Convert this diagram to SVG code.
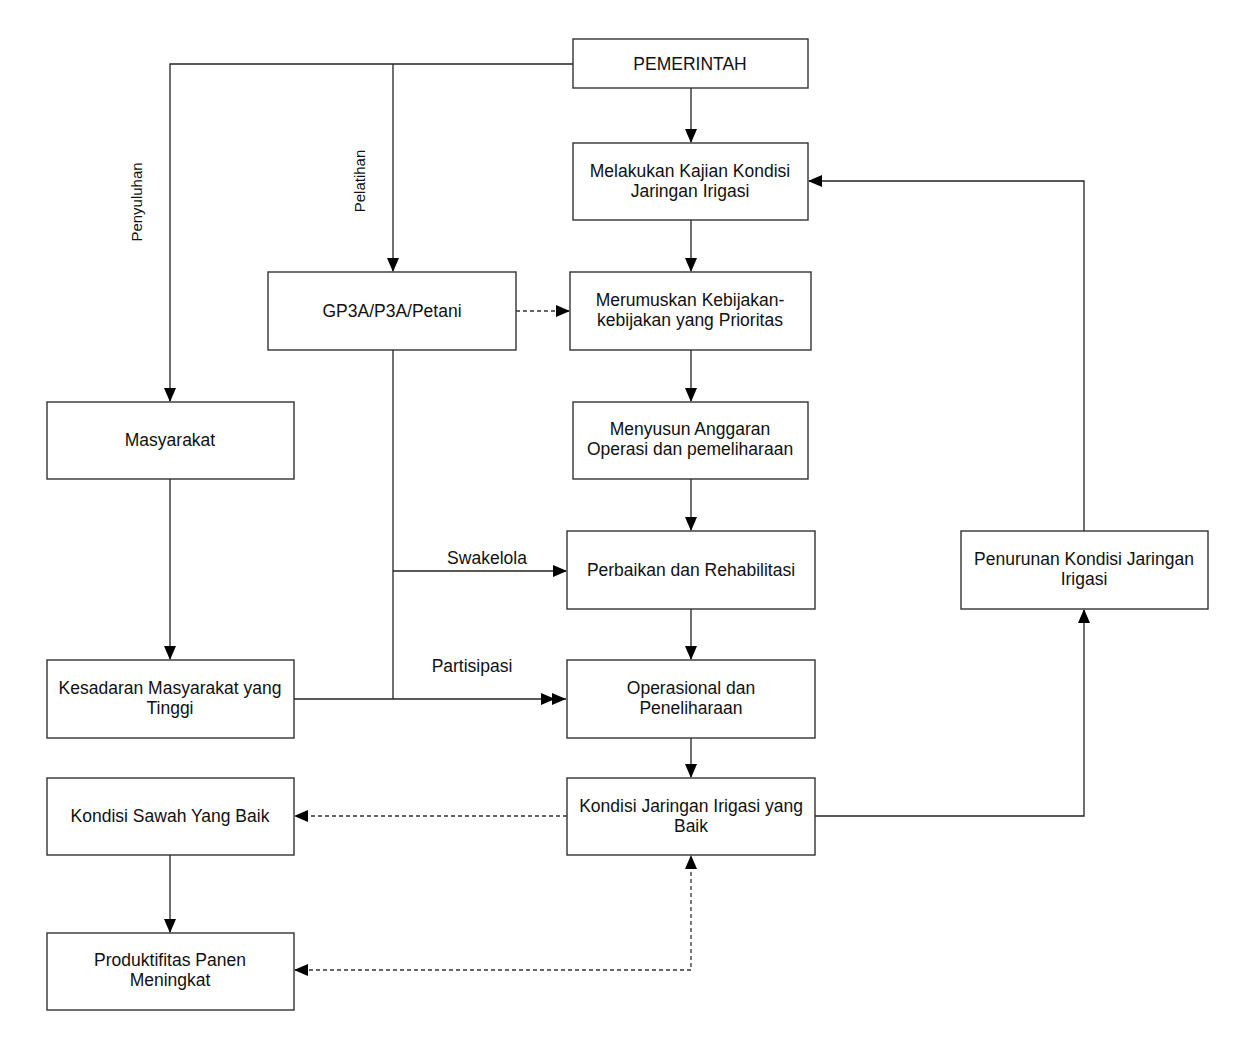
<svg xmlns="http://www.w3.org/2000/svg" width="1256" height="1054" viewBox="0 0 1256 1054">
<style>
.box{fill:#fff;stroke:#333;stroke-width:1.4}
.t{font-family:"Liberation Sans",Arial,sans-serif;font-size:17.5px;fill:#111;text-anchor:middle}
.r{font-size:15px}
.c{fill:none;stroke:#222;stroke-width:1.3}
.d{fill:none;stroke:#333;stroke-width:1.3;stroke-dasharray:4 3}
</style>
<defs>
<marker id="ah" markerWidth="14" markerHeight="12" refX="13" refY="6" orient="auto" markerUnits="userSpaceOnUse"><path d="M0,0 L14,6 L0,12 Z" fill="#000"/></marker>
<marker id="ah2" markerWidth="26" markerHeight="12" refX="25" refY="6" orient="auto" markerUnits="userSpaceOnUse"><path d="M0,0 L14,6 L0,12 Z M11,0 L25,6 L11,12 Z" fill="#000"/></marker>
<marker id="as" markerWidth="14" markerHeight="12" refX="13" refY="6" orient="auto-start-reverse" markerUnits="userSpaceOnUse"><path d="M0,0 L14,6 L0,12 Z" fill="#000"/></marker>
</defs>
<rect width="1256" height="1054" fill="#fff"/>
<g id="connectors">
<path class="c" d="M573,64 H170 V401" marker-end="url(#ah)"/>
<path class="c" d="M393,64 V271" marker-end="url(#ah)"/>
<path class="c" d="M691,88 V142" marker-end="url(#ah)"/>
<path class="c" d="M691,220 V271" marker-end="url(#ah)"/>
<path class="c" d="M691,350 V401" marker-end="url(#ah)"/>
<path class="c" d="M691,479 V530" marker-end="url(#ah)"/>
<path class="c" d="M691,609 V659" marker-end="url(#ah)"/>
<path class="c" d="M691,738 V777" marker-end="url(#ah)"/>
<path class="d" d="M516,311 H569" marker-end="url(#ah)"/>
<path class="c" d="M393,350 V699"/>
<path class="c" d="M393,571 H566" marker-end="url(#ah)"/>
<path class="c" d="M294,699 H566" marker-end="url(#ah2)"/>
<path class="c" d="M170,479 V659" marker-end="url(#ah)"/>
<path class="c" d="M170,855 V932" marker-end="url(#ah)"/>
<path class="d" d="M567,816 H295" marker-end="url(#ah)"/>
<path class="d" d="M295,970 H691 V856" marker-start="url(#as)" marker-end="url(#ah)"/>
<path class="c" d="M815,816 H1084 V610" marker-end="url(#ah)"/>
<path class="c" d="M1084,531 V181 H809" marker-end="url(#ah)"/>
<text class="t r" transform="translate(137,202) rotate(-90)" dy="5">Penyuluhan</text>
<text class="t r" transform="translate(360,181) rotate(-90)" dy="5">Pelatihan</text>
<text class="t" x="487" y="564">Swakelola</text>
<text class="t" x="472" y="672">Partisipasi</text>
</g>
<g id="pemerintah"><rect class="box" x="573" y="39" width="235" height="49"/><text class="t" x="690" y="70">PEMERINTAH</text></g>
<g id="kajian"><rect class="box" x="573" y="143" width="235" height="77"/><text class="t" x="690" y="177">Melakukan Kajian Kondisi</text><text class="t" x="690" y="197">Jaringan Irigasi</text></g>
<g id="gp3a"><rect class="box" x="268" y="272" width="248" height="78"/><text class="t" x="392" y="317">GP3A/P3A/Petani</text></g>
<g id="merumuskan"><rect class="box" x="570" y="272" width="241" height="78"/><text class="t" x="690" y="306">Merumuskan Kebijakan-</text><text class="t" x="690" y="326">kebijakan yang Prioritas</text></g>
<g id="masyarakat"><rect class="box" x="47" y="402" width="247" height="77"/><text class="t" x="170" y="446">Masyarakat</text></g>
<g id="anggaran"><rect class="box" x="573" y="402" width="235" height="77"/><text class="t" x="690" y="435">Menyusun Anggaran</text><text class="t" x="690" y="455">Operasi dan pemeliharaan</text></g>
<g id="perbaikan"><rect class="box" x="567" y="531" width="248" height="78"/><text class="t" x="691" y="576">Perbaikan dan Rehabilitasi</text></g>
<g id="penurunan"><rect class="box" x="961" y="531" width="247" height="78"/><text class="t" x="1084" y="565">Penurunan Kondisi Jaringan</text><text class="t" x="1084" y="585">Irigasi</text></g>
<g id="kesadaran"><rect class="box" x="47" y="660" width="247" height="78"/><text class="t" x="170" y="694">Kesadaran Masyarakat yang</text><text class="t" x="170" y="714">Tinggi</text></g>
<g id="operasional"><rect class="box" x="567" y="660" width="248" height="78"/><text class="t" x="691" y="694">Operasional dan</text><text class="t" x="691" y="714">Peneliharaan</text></g>
<g id="sawah"><rect class="box" x="47" y="778" width="247" height="77"/><text class="t" x="170" y="822">Kondisi Sawah Yang Baik</text></g>
<g id="jaringanbaik"><rect class="box" x="567" y="778" width="248" height="77"/><text class="t" x="691" y="812">Kondisi Jaringan Irigasi yang</text><text class="t" x="691" y="832">Baik</text></g>
<g id="produktifitas"><rect class="box" x="47" y="933" width="247" height="77"/><text class="t" x="170" y="966">Produktifitas Panen</text><text class="t" x="170" y="986">Meningkat</text></g>
</svg>
